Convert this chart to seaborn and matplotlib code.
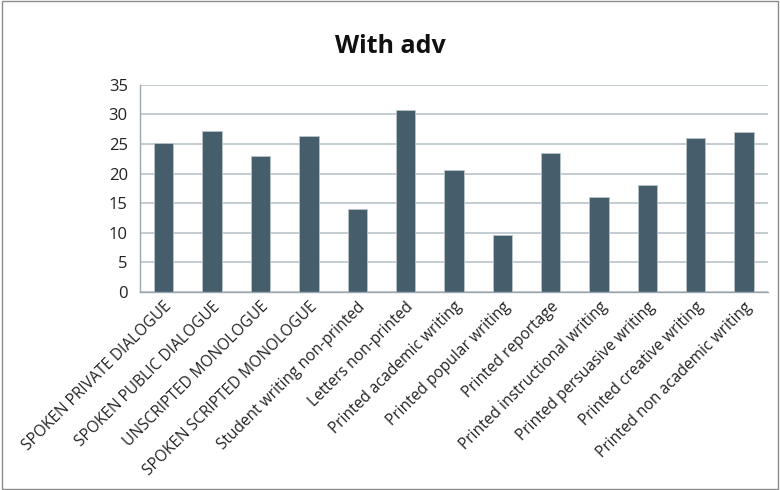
import matplotlib
matplotlib.use("Agg")
import matplotlib.pyplot as plt
import numpy as np
import pandas as pd
import seaborn as sns
from matplotlib.patches import Rectangle

#%% Data
categories = [
    'SPOKEN PRIVATE DIALOGUE',
    'SPOKEN PUBLIC DIALOGUE',
    'UNSCRIPTED MONOLOGUE',
    'SPOKEN SCRIPTED MONOLOGUE',
    'Student writing non-printed',
    'Letters non-printed',
    'Printed academic writing',
    'Printed popular writing',
    'Printed reportage',
    'Printed instructional writing',
    'Printed persuasive writing',
    'Printed creative writing',
    'Printed non academic writing',
]
values = [25.1, 27.2, 22.9, 26.4, 14.0, 30.8, 20.6, 9.7, 23.5, 16.0, 18.1, 26.0, 27.1]
y_ticks = [0, 5, 10, 15, 20, 25, 30, 35]

data = pd.DataFrame({'category': categories, 'value': values})

#%% Figure
sns.set_style("white")
plt.rcParams['font.family'] = ['Open Sans', 'DejaVu Sans']

fig = plt.figure(figsize=(7.8, 4.9), dpi=100)
ax = fig.add_axes([0.179, 0.404, 0.806, 0.423])

grid_col = '#B9C4CA'
ax.set_axisbelow(True)
ax.yaxis.grid(True, color=grid_col, linewidth=1.2)

sns.barplot(data=data, x='category', y='value', color='#465D6B', width=0.4,
            saturation=1, ax=ax, edgecolor='#B9C4CA', linewidth=0.6)

ax.set_ylim(0, 35)
ax.set_yticks(y_ticks)
ax.set_xlim(-0.5, len(categories) - 0.5)
ax.set_xlabel('')
ax.set_ylabel('')

# category boundary ticks like Excel
ax.set_xticks(np.arange(len(categories)))
ax.set_xticklabels(categories, rotation=45, ha='right', rotation_mode='anchor', fontsize=11.2,
                   color='#222222')
ax.set_xticks(np.arange(-0.5, len(categories)), minor=True)
ax.tick_params(axis='x', which='major', length=0, pad=5)
ax.tick_params(axis='x', which='minor', length=6, color='#9AA7AE', direction='out', width=1)
ax.tick_params(axis='y', length=5, color='#9AA7AE', direction='out', labelsize=12, labelcolor='#222222')

for side in ['top', 'right']:
    ax.spines[side].set_visible(False)
for side in ['left', 'bottom']:
    ax.spines[side].set_color('#9AA7AE')
    ax.spines[side].set_linewidth(1)

fig.text(0.5, 0.905, 'With adv', ha='center', va='center', fontsize=18, fontweight='bold', color='#111111')

# chart border
fig.patches.append(Rectangle((0.003, 0.003), 0.994, 0.994, transform=fig.transFigure,
                             fill=False, edgecolor='#8C8C8C', linewidth=1))

fig.savefig('out.png', dpi=100)
